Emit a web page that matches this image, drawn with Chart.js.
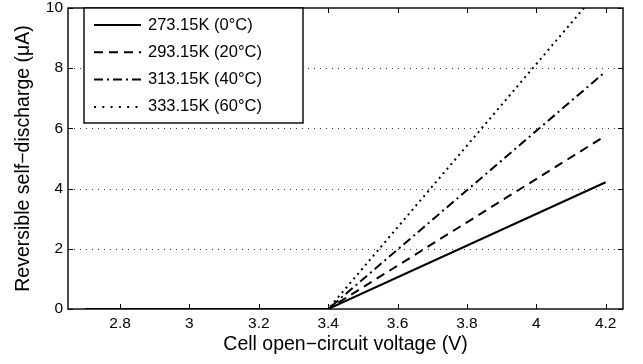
<!DOCTYPE html>
<html>
<head>
<meta charset="utf-8">
<script src="https://cdn.jsdelivr.net/npm/chart.js@4"></script>
<style>
  html, body { margin: 0; padding: 0; background: #fff; }
  #wrap { width: 643px; height: 364px; }
</style>
</head>
<body>
<div id="wrap"><canvas id="chart"></canvas></div>
<script>
// open-circuit voltage (V)
const voltage = [2.7, 3.4, 4.2];
// reversible self-discharge (uA) per temperature
const k273 = [0, 0, 4.21];
const k293 = [0, 0, 5.76];
const k313 = [0, 0, 7.89];
const k333 = [0, 0, 10.85];

const labels = ["273.15K (0\u00B0C)", "293.15K (20\u00B0C)", "313.15K (40\u00B0C)", "333.15K (60\u00B0C)"];
const dashes = [[], [9, 6], [9, 4, 2, 4], [2, 4]];
const xTicks = [2.8, 3, 3.2, 3.4, 3.6, 3.8, 4, 4.2];
const yTicks = [0, 2, 4, 6, 8, 10];

const FONT = "'Liberation Sans', Arial, Helvetica, sans-serif";

const series = [k273, k293, k313, k333];
const datasets = series.map((s, i) => ({
    label: labels[i],
    data: voltage.map((v, j) => ({ x: v, y: s[j] })),
    borderColor: "#000",
    borderWidth: 2,
    borderDash: dashes[i],
    pointRadius: 0,
    fill: false,
    tension: 0
}));

// grid, frame, inward ticks and the boxed legend
const framePlugin = {
    id: "frame",
    beforeDatasetsDraw(chart) {
        const { ctx, chartArea: a, scales: { y } } = chart;
        ctx.save();
        ctx.strokeStyle = "#333";
        ctx.lineWidth = 1;
        ctx.setLineDash([1, 5]);
        yTicks.forEach((t) => {
            if (t === 0 || t === 10) return;
            const py = Math.round(y.getPixelForValue(t)) + 0.5;
            ctx.beginPath();
            ctx.moveTo(a.left, py);
            ctx.lineTo(a.right, py);
            ctx.stroke();
        });
        ctx.restore();
    },
    afterDraw(chart) {
        const { ctx, chartArea: a, scales: { x, y } } = chart;
        ctx.save();
        ctx.strokeStyle = "#000";
        ctx.lineWidth = 1.4;
        ctx.setLineDash([]);
        ctx.strokeRect(a.left, a.top, a.right - a.left, a.bottom - a.top);
        const tl = 5;
        ctx.lineWidth = 1;
        xTicks.forEach((t) => {
            const px = Math.round(x.getPixelForValue(t)) + 0.5;
            ctx.beginPath();
            ctx.moveTo(px, a.bottom); ctx.lineTo(px, a.bottom - tl);
            ctx.moveTo(px, a.top); ctx.lineTo(px, a.top + tl);
            ctx.stroke();
        });
        yTicks.forEach((t) => {
            const py = Math.round(y.getPixelForValue(t)) + 0.5;
            ctx.beginPath();
            ctx.moveTo(a.left, py); ctx.lineTo(a.left + tl, py);
            ctx.moveTo(a.right, py); ctx.lineTo(a.right - tl, py);
            ctx.stroke();
        });

        // legend box
        const bx = 84, by = a.top, bw = 219, bh = 115;
        ctx.fillStyle = "#fff";
        ctx.fillRect(bx, by, bw, bh);
        ctx.lineWidth = 1.4;
        ctx.strokeRect(bx, by, bw, bh);
        ctx.font = "16.5px " + FONT;
        ctx.textBaseline = "middle";
        ctx.fillStyle = "#000";
        chart.data.datasets.forEach((ds, i) => {
            const ly = by + 17 + i * 27.3;
            ctx.beginPath();
            ctx.lineWidth = 2;
            ctx.setLineDash(i === 3 ? [2, 6.3] : ds.borderDash);
            ctx.moveTo(94, ly);
            ctx.lineTo(141, ly);
            ctx.stroke();
            ctx.setLineDash([]);
            ctx.fillText(ds.label, 148, ly);
        });
        ctx.restore();
    }
};

new Chart(document.getElementById("chart"), {
    type: "line",
    data: { datasets: datasets },
    plugins: [framePlugin],
    options: {
        responsive: true,
        maintainAspectRatio: false,
        animation: false,
        layout: { padding: { top: 8, right: 20, left: 0, bottom: 0 } },
        plugins: {
            legend: { display: false },
            tooltip: { enabled: false }
        },
        scales: {
            x: {
                type: "linear",
                min: 2.65,
                max: 4.25,
                afterBuildTicks: (s) => { s.ticks = xTicks.map((v) => ({ value: v })); },
                afterFit: (s) => { s.height = 55; s.paddingLeft = 0; s.paddingRight = 0; },
                grid: { display: false, drawTicks: false },
                border: { display: false },
                ticks: {
                    color: "#000",
                    padding: 5,
                    font: { family: FONT, size: 15.5 },
                    callback: (v) => String(v)
                },
                title: {
                    display: true,
                    text: "Cell open\u2212circuit voltage (V)",
                    color: "#000",
                    font: { family: FONT, size: 19.5 },
                    padding: { top: 0, bottom: 8 }
                }
            },
            y: {
                min: 0,
                max: 10,
                afterBuildTicks: (s) => { s.ticks = yTicks.map((v) => ({ value: v })); },
                afterFit: (s) => { s.width = 68; s.paddingTop = 0; s.paddingBottom = 0; },
                grid: { display: false, drawTicks: false },
                border: { display: false },
                ticks: {
                    color: "#000",
                    padding: 5,
                    font: { family: FONT, size: 15.5 },
                    callback: (v) => String(v)
                },
                title: {
                    display: true,
                    text: "Reversible self\u2212discharge (\u03BCA)",
                    color: "#000",
                    font: { family: FONT, size: 19.5 },
                    padding: { top: 12, bottom: 0 }
                }
            }
        }
    }
});
</script>
</body>
</html>
